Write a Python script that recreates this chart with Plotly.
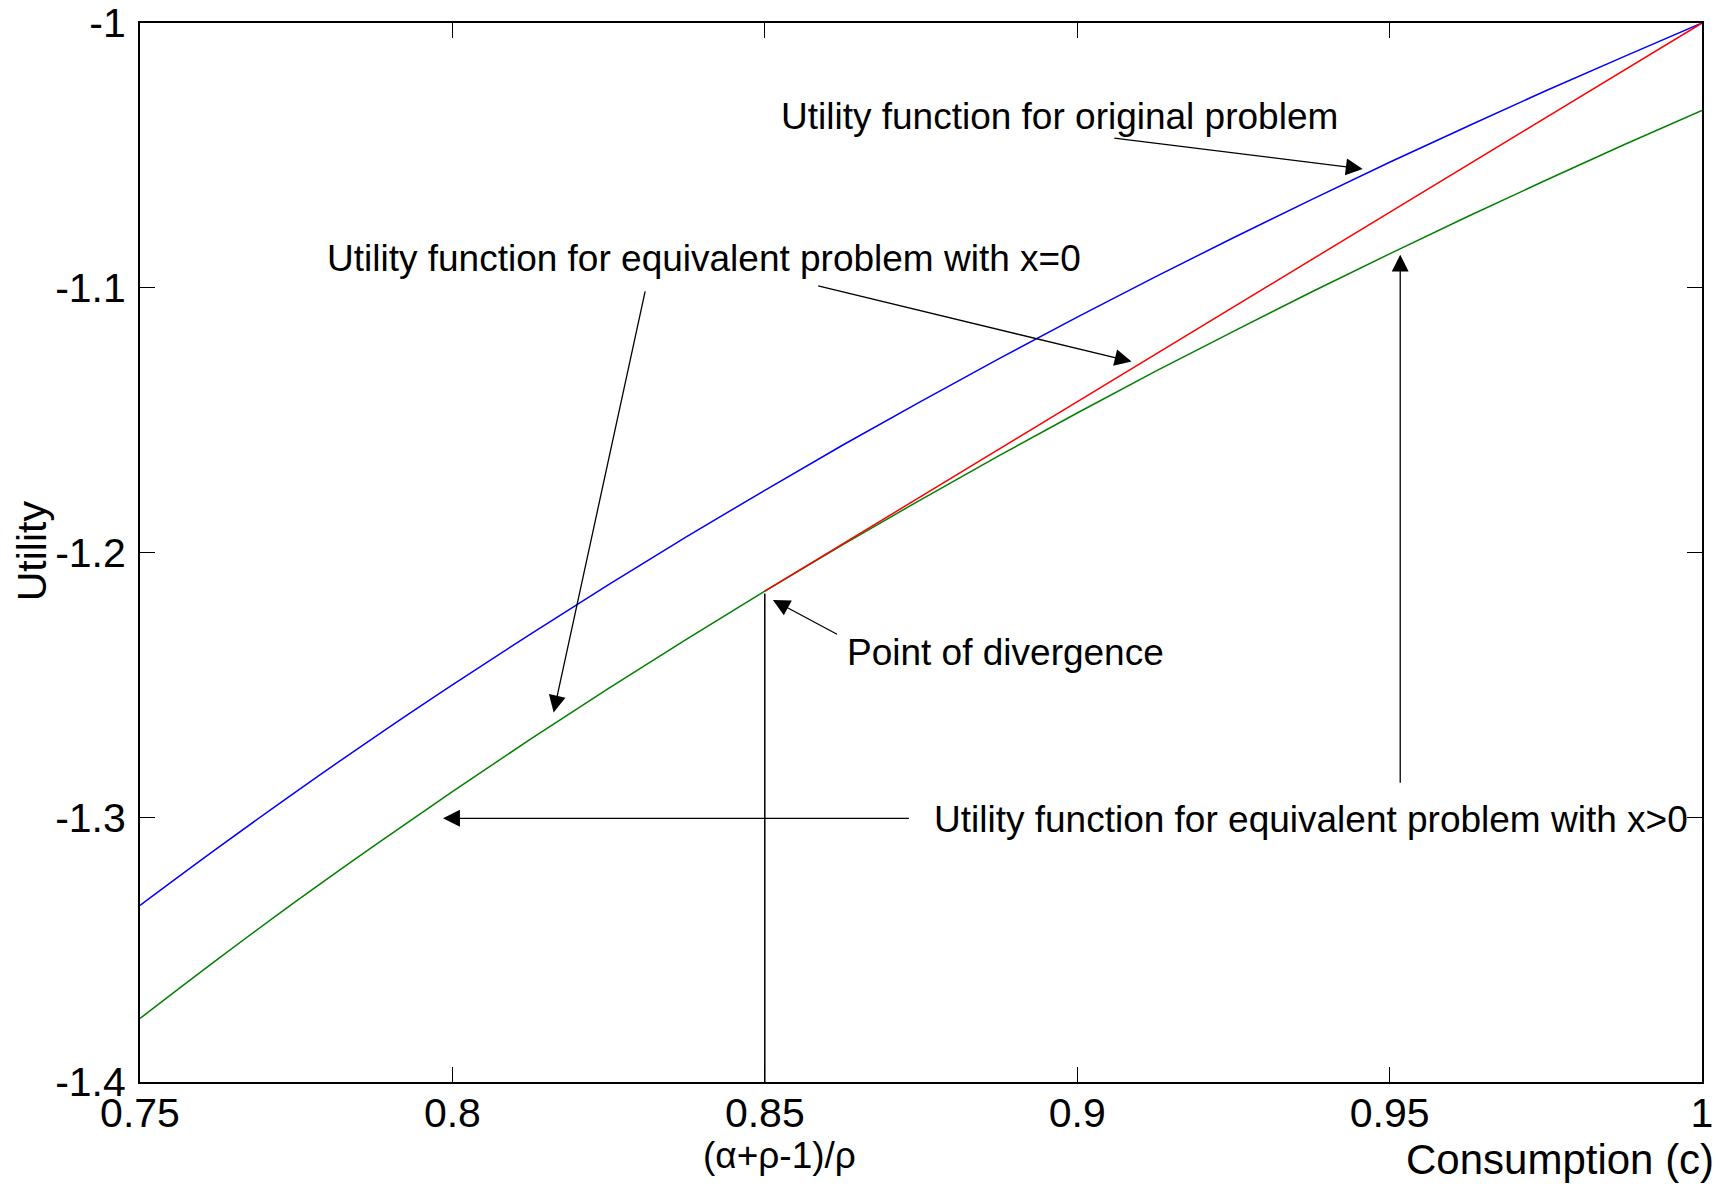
import plotly.graph_objects as go

# ---- data ----
c_vals = [0.75, 0.7625, 0.775, 0.7875, 0.8, 0.8125, 0.825, 0.8375, 0.85, 0.8625, 0.875,
          0.8875, 0.9, 0.9125, 0.925, 0.9375, 0.95, 0.9625, 0.975, 0.9875, 1.0]
u_original = [-1.3333, -1.3115, -1.2903, -1.2698, -1.2500, -1.2308, -1.2121, -1.1940,
              -1.1765, -1.1594, -1.1429, -1.1268, -1.1111, -1.0959, -1.0811, -1.0667,
              -1.0526, -1.0390, -1.0256, -1.0127, -1.0000]
u_equiv_pos = [-1.3760, -1.3535, -1.3317, -1.3107, -1.2903, -1.2705, -1.2513, -1.2327,
               -1.2146, -1.1970, -1.1800, -1.1634, -1.1473, -1.1316, -1.1165, -1.1016,
               -1.0872, -1.0731, -1.0594, -1.0460, -1.0330]
c_equiv_zero = [0.85, 1.0]
u_equiv_zero = [-1.2146, -1.0]
c_div = [0.85, 0.85]
u_div = [-1.2155, -1.4]

x_ticks = [0.75, 0.8, 0.85, 0.9, 0.95, 1.0]
x_ticktext = ["0.75", "0.8", "0.85", "0.9", "0.95", "1"]
y_ticks = [-1.4, -1.3, -1.2, -1.1, -1.0]
y_ticktext = ["-1.4", "-1.3", "-1.2", "-1.1", "-1"]

FONT = "Liberation Sans, Arial, sans-serif"

fig = go.Figure()
fig.add_trace(go.Scatter(x=c_vals, y=u_original, mode="lines", line_shape="spline",
                         line=dict(color="#0000ff", width=1.5), showlegend=False))
fig.add_trace(go.Scatter(x=c_vals, y=u_equiv_pos, mode="lines", line_shape="spline",
                         line=dict(color="#008000", width=1.5), showlegend=False))
fig.add_trace(go.Scatter(x=c_equiv_zero, y=u_equiv_zero, mode="lines",
                         line=dict(color="#ff0000", width=1.5), showlegend=False))
fig.add_trace(go.Scatter(x=c_div, y=u_div, mode="lines",
                         line=dict(color="black", width=1.5), showlegend=False))

texts = [
    ("Utility function for original problem", 0.8972, -1.0354),
    ("Utility function for equivalent problem with x=0", 0.8402, -1.0888),
    ("Point of divergence", 0.8885, -1.2376),
    ("Utility function for equivalent problem with x>0", 0.9374, -1.3008),
]
arrows = [
    # (tail x, tail y, head x, head y)
    (0.9057, -1.0434, 0.9457, -1.0551),
    (0.8309, -1.1008, 0.8162, -1.2604),
    (0.8583, -1.0992, 0.9087, -1.1279),
    (0.8618, -1.2312, 0.8513, -1.2179),
    (0.8733, -1.3004, 0.7985, -1.3004),
    (0.9517, -1.2875, 0.9517, -1.0875),
]

ann = []
for t, x, y in texts:
    ann.append(dict(text=t, x=x, y=y, xref="x", yref="y", showarrow=False,
                    font=dict(family=FONT, size=37, color="black"),
                    xanchor="center", yanchor="middle"))
for tx, ty, hx, hy in arrows:
    ann.append(dict(text="", x=hx, y=hy, ax=tx, ay=ty, xref="x", yref="y",
                    axref="x", ayref="y", showarrow=True, arrowhead=2,
                    arrowsize=2.6, arrowwidth=1.3, arrowcolor="black", standoff=0))
ann.append(dict(text="(α+ρ-1)/ρ", x=0.8524, y=-0.069, xref="x", yref="paper",
                showarrow=False, font=dict(family=FONT, size=37, color="black"),
                xanchor="center", yanchor="middle"))
ann.append(dict(text="Consumption (c)", x=1.009, y=-0.073, xref="paper", yref="paper",
                showarrow=False, font=dict(family=FONT, size=42, color="black"),
                xanchor="right", yanchor="middle"))
ann.append(dict(text="Utility", x=-0.069, y=0.5014, xref="paper", yref="paper",
                showarrow=False, textangle=-90, font=dict(family=FONT, size=41, color="black"),
                xanchor="center", yanchor="middle"))

axis_common = dict(showgrid=False, zeroline=False, showline=True, linecolor="black",
                   linewidth=2, mirror="ticks", ticks="inside", ticklen=15,
                   tickwidth=1.2, tickcolor="black", automargin=False,
                   ticklabeloverflow="allow",
                   tickfont=dict(family=FONT, size=41, color="black"))

fig.update_layout(
    width=1731, height=1188,
    margin=dict(l=132, r=37, t=15, b=114),
    paper_bgcolor="white", plot_bgcolor="white",
    xaxis=dict(range=[0.75, 1.0], tickvals=x_ticks, ticktext=x_ticktext,
               ticklabelstandoff=-6, **axis_common),
    yaxis=dict(range=[-1.4, -1.0], tickvals=y_ticks, ticktext=y_ticktext,
               ticklabelstandoff=4, **axis_common),
    annotations=ann,
)

fig.write_html("out.html")
